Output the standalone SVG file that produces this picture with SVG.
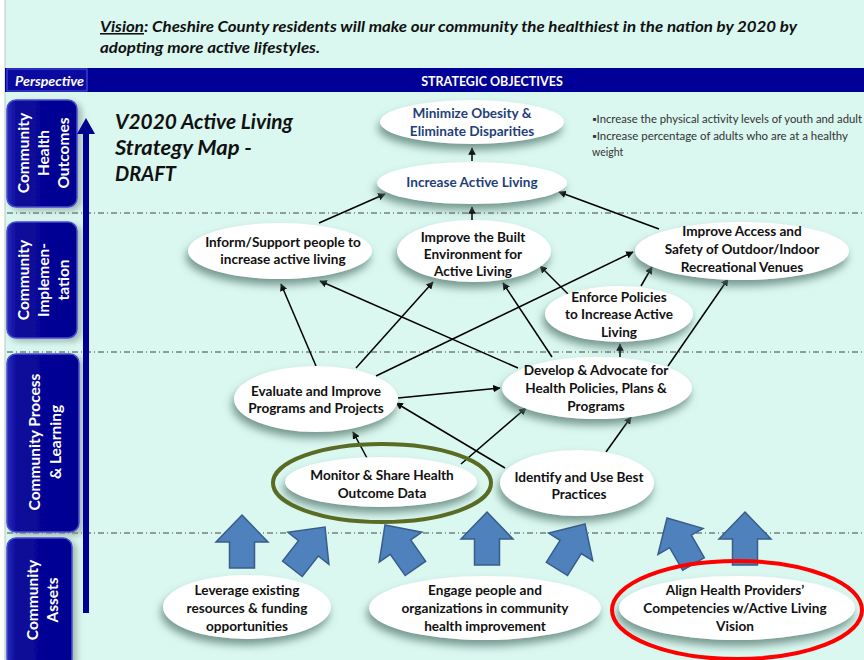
<svg xmlns="http://www.w3.org/2000/svg" width="864" height="660" viewBox="0 0 864 660">
<defs>
<style>
.nt{font-family:Lato,"Liberation Sans",sans-serif;font-weight:bold;font-size:13.6px;fill:#111;text-anchor:middle}
.bl{fill:#1F3F7A}
.el{fill:#fff;filter:url(#sh)}
.conn line{stroke:#000;stroke-width:1.5;marker-end:url(#ah)}
.dash{stroke:#444;stroke-width:1;stroke-dasharray:6 3 1 3}
.big{fill:#4F81BD;stroke:#385D8A;stroke-width:1.5}
.pbox{fill:url(#pg);stroke:#4A4AD0;stroke-width:1.5;filter:url(#sh2)}
.pt{font-family:Lato,"Liberation Sans",sans-serif;font-weight:bold;font-size:15.5px;fill:#fff;text-anchor:middle;dominant-baseline:central}
</style>
<linearGradient id="pg" x1="0" y1="0" x2="1" y2="0">
<stop offset="0" stop-color="#2A2AB8"/><stop offset="0.15" stop-color="#0A0A9A"/><stop offset="1" stop-color="#000090"/>
</linearGradient>
<filter id="sh" x="-20%" y="-30%" width="140%" height="170%">
<feDropShadow dx="-2" dy="6" stdDeviation="4" flood-color="#55786E" flood-opacity="0.75"/>
</filter>
<filter id="sh2" x="-20%" y="-20%" width="150%" height="140%">
<feDropShadow dx="4" dy="3" stdDeviation="3" flood-color="#7A8F8A" flood-opacity="0.6"/>
</filter>
<marker id="ah" viewBox="0 0 10 10" refX="9" refY="5" markerWidth="5" markerHeight="5" orient="auto">
<path d="M0,0 L10,5 L0,10 Z" fill="#000"/>
</marker>
<path id="bigarrow" d="M0,-27 L26,0 L12.5,0 L12.5,26 L-12.5,26 L-12.5,0 L-26,0 Z"/>
</defs>

<rect x="0" y="0" width="864" height="660" fill="#FFFFFF"/>
<rect x="5" y="0" width="859" height="660" fill="#DAF7F0"/>
<line x1="5" y1="0" x2="5" y2="660" stroke="#B8C8C4" stroke-width="1"/>

<!-- Vision -->
<text font-family="Lato,'Liberation Sans',sans-serif" font-weight="bold" font-style="italic" font-size="15.5" fill="#111" x="100" y="32" textLength="697" lengthAdjust="spacingAndGlyphs"><tspan text-decoration="underline">Vision</tspan>: Cheshire County residents will make our community the healthiest in the nation by 2020 by</text>
<text font-family="Lato,'Liberation Sans',sans-serif" font-weight="bold" font-style="italic" font-size="15.5" fill="#111" x="100" y="53" textLength="220" lengthAdjust="spacingAndGlyphs">adopting more active lifestyles.</text>

<!-- Header bar -->
<rect x="5" y="68" width="859" height="24" fill="#000099"/>
<rect x="7" y="69" width="80" height="22" fill="#0A0AA0" stroke="#4B4BD6" stroke-width="1.2"/>
<text x="15" y="86" font-family="Lato,'Liberation Sans',sans-serif" font-weight="bold" font-style="italic" font-size="13" fill="#fff" textLength="69" lengthAdjust="spacingAndGlyphs">Perspective</text>
<text x="492" y="86" font-family="Lato,'Liberation Sans',sans-serif" font-weight="bold" font-size="12.5" fill="#fff" text-anchor="middle">STRATEGIC OBJECTIVES</text>

<!-- dash-dot lines -->
<line class="dash" x1="7" y1="213" x2="864" y2="213"/>
<line class="dash" x1="7" y1="352" x2="864" y2="352"/>
<line class="dash" x1="7" y1="533" x2="864" y2="533"/>

<!-- Perspective boxes -->
<g id="p-health">
<rect class="pbox" x="7" y="100" width="70" height="107" rx="9"/>
<text class="pt" transform="translate(23,153) rotate(-90)">Community</text>
<text class="pt" transform="translate(43,153) rotate(-90)">Health</text>
<text class="pt" transform="translate(63,153) rotate(-90)">Outcomes</text>
</g>
<g id="p-impl">
<rect class="pbox" x="7" y="222" width="70" height="116" rx="9"/>
<text class="pt" transform="translate(23,280) rotate(-90)">Community</text>
<text class="pt" transform="translate(43,280) rotate(-90)">Implemen-</text>
<text class="pt" transform="translate(63,280) rotate(-90)">tation</text>
</g>
<g id="p-process">
<rect class="pbox" x="7" y="354" width="72" height="178" rx="9"/>
<text class="pt" transform="translate(34,442) rotate(-90)">Community Process</text>
<text class="pt" transform="translate(55,442) rotate(-90)">&amp; Learning</text>
</g>
<g id="p-assets">
<rect class="pbox" x="7" y="538" width="65" height="130" rx="9"/>
<text class="pt" transform="translate(32,600) rotate(-90)">Community</text>
<text class="pt" transform="translate(52,600) rotate(-90)">Assets</text>
</g>

<!-- vertical arrow -->
<g id="vert-arrow" fill="#000090">
<rect x="83" y="131" width="6" height="482"/>
<path d="M86,118 L95,134 L77,134 Z"/>
</g>

<!-- Title -->
<g font-family="Lato,'Liberation Sans',sans-serif" font-weight="bold" font-style="italic" font-size="20.5" fill="#111">
<text x="115" y="129" textLength="178" lengthAdjust="spacingAndGlyphs">V2020 Active Living</text>
<text x="115" y="155" textLength="137" lengthAdjust="spacingAndGlyphs">Strategy Map -</text>
<text x="115" y="181" textLength="61" lengthAdjust="spacingAndGlyphs">DRAFT</text>
</g>

<!-- bullets -->
<g font-family="Lato,'Liberation Sans',sans-serif" font-size="10.5" fill="#333">
<text x="592" y="123" textLength="270" lengthAdjust="spacingAndGlyphs">▪Increase the physical activity levels of youth and adult</text>
<text x="592" y="140" textLength="256" lengthAdjust="spacingAndGlyphs">▪Increase percentage of adults who are at a healthy</text>
<text x="592" y="156">weight</text>
</g>

<!-- big block arrows -->
<g id="block-arrows">
<use href="#bigarrow" class="big" transform="translate(242,542)"/>
<use href="#bigarrow" class="big" transform="translate(308.4,548.3) rotate(38)"/>
<use href="#bigarrow" class="big" transform="translate(400.5,547.1) rotate(-35)"/>
<use href="#bigarrow" class="big" transform="translate(487,539)"/>
<use href="#bigarrow" class="big" transform="translate(570.7,546.9) rotate(32)"/>
<use href="#bigarrow" class="big" transform="translate(680.5,541.4) rotate(-30)"/>
<use href="#bigarrow" class="big" transform="translate(745,539)"/>
</g>

<!-- connectors -->
<g id="connectors" class="conn">
<line x1="472" y1="161" x2="472" y2="148"/>
<line x1="319" y1="223" x2="385" y2="194"/>
<line x1="472" y1="220" x2="472" y2="207"/>
<line x1="659" y1="229" x2="559" y2="192"/>
<line x1="316" y1="366" x2="281" y2="284"/>
<line x1="356" y1="368" x2="433" y2="282"/>
<line x1="376" y1="376" x2="633" y2="252"/>
<line x1="518" y1="368" x2="320" y2="281"/>
<line x1="552" y1="357" x2="503" y2="283"/>
<line x1="568" y1="294" x2="540" y2="266"/>
<line x1="641" y1="286" x2="652" y2="267"/>
<line x1="620" y1="357" x2="620" y2="344"/>
<line x1="668" y1="366" x2="728" y2="279"/>
<line x1="398" y1="398" x2="500" y2="388"/>
<line x1="505" y1="468" x2="396" y2="403"/>
<line x1="367" y1="458" x2="353" y2="432"/>
<line x1="461" y1="464" x2="526" y2="408"/>
<line x1="606" y1="452" x2="631" y2="417"/>
</g>

<!-- nodes -->
<g id="n-minimize">
<ellipse class="el" cx="472" cy="122" rx="92" ry="22"/>
<text class="nt bl" x="472" y="118">Minimize Obesity &amp;</text>
<text class="nt bl" x="472" y="136">Eliminate Disparities</text>
</g>
<g id="n-increase">
<ellipse class="el" cx="472" cy="183" rx="95" ry="21"/>
<text class="nt bl" x="472" y="187">Increase Active Living</text>
</g>
<g id="n-inform">
<ellipse class="el" cx="280" cy="251" rx="92" ry="28"/>
<text class="nt" x="283" y="247">Inform/Support people to</text>
<text class="nt" x="283" y="264">increase active living</text>
</g>
<g id="n-built">
<ellipse class="el" cx="474" cy="251" rx="77" ry="31"/>
<text class="nt" x="473" y="242">Improve the Built</text>
<text class="nt" x="473" y="259">Environment for</text>
<text class="nt" x="473" y="276">Active Living</text>
</g>
<g id="n-access">
<ellipse class="el" cx="742" cy="251" rx="107" ry="29"/>
<text class="nt" x="742" y="236">Improve Access and</text>
<text class="nt" x="742" y="254">Safety of Outdoor/Indoor</text>
<text class="nt" x="742" y="272">Recreational Venues</text>
</g>
<g id="n-enforce">
<ellipse class="el" cx="619" cy="314" rx="74" ry="28"/>
<text class="nt" x="619" y="302">Enforce Policies</text>
<text class="nt" x="619" y="319">to Increase Active</text>
<text class="nt" x="619" y="337">Living</text>
</g>
<g id="n-develop">
<ellipse class="el" cx="597" cy="388" rx="95" ry="31"/>
<text class="nt" x="596" y="375">Develop &amp; Advocate for</text>
<text class="nt" x="596" y="393">Health Policies, Plans &amp;</text>
<text class="nt" x="596" y="411">Programs</text>
</g>
<g id="n-evaluate">
<ellipse class="el" cx="316" cy="399" rx="82" ry="33"/>
<text class="nt" x="316" y="396">Evaluate and Improve</text>
<text class="nt" x="316" y="413">Programs and Projects</text>
</g>
<g id="n-monitor">
<ellipse class="el" cx="381" cy="482" rx="96" ry="25"/>
<ellipse cx="382" cy="483" rx="109" ry="39" fill="none" stroke="#5A6B23" stroke-width="4"/>
<text class="nt" x="382" y="480">Monitor &amp; Share Health</text>
<text class="nt" x="382" y="498">Outcome Data</text>
</g>
<g id="n-identify">
<ellipse class="el" cx="577" cy="483" rx="77" ry="33"/>
<text class="nt" x="579" y="482">Identify and Use Best</text>
<text class="nt" x="579" y="499">Practices</text>
</g>
<g id="n-leverage">
<ellipse class="el" cx="247" cy="607" rx="84" ry="32"/>
<text class="nt" x="247" y="595">Leverage existing</text>
<text class="nt" x="247" y="613">resources &amp; funding</text>
<text class="nt" x="247" y="631">opportunities</text>
</g>
<g id="n-engage">
<ellipse class="el" cx="485" cy="608" rx="116" ry="32"/>
<text class="nt" x="485" y="595">Engage people and</text>
<text class="nt" x="485" y="613">organizations in community</text>
<text class="nt" x="485" y="631">health improvement</text>
</g>
<g id="n-align">
<ellipse class="el" cx="737" cy="608" rx="118" ry="32"/>
<ellipse cx="737" cy="610" rx="125" ry="49" fill="none" stroke="#FF0000" stroke-width="4"/>
<text class="nt" x="735" y="595">Align Health Providers’</text>
<text class="nt" x="735" y="613">Competencies w/Active Living</text>
<text class="nt" x="735" y="631">Vision</text>
</g>
</svg>
